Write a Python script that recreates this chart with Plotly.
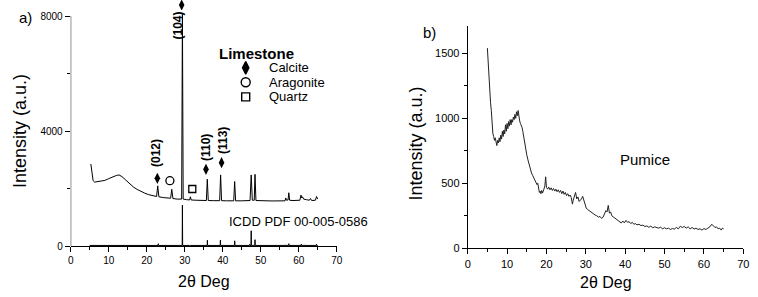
import plotly.graph_objects as go

# ---------------- data ----------------
lime_x = [5.3, 5.6, 5.9, 6.3, 7.0, 8.0, 9.0, 10.0, 11.0, 12.0, 12.7, 13.5, 14.5, 15.5, 16.5,
          17.5, 18.5, 19.5, 20.5, 21.5, 22.6, 22.9, 23.2, 24.5, 26.3, 26.6, 26.9, 28.0, 29.2,
          29.4, 29.6, 30.5, 31.3, 31.5, 31.7, 33.0, 35.7, 35.95, 36.2, 37.5, 39.2, 39.45, 39.7,
          41.0, 42.9, 43.15, 43.4, 45.0, 47.0, 47.2, 47.5, 47.8, 48.3, 48.5, 48.75, 50.0, 53.0,
          56.4, 56.6, 56.8, 57.2, 57.4, 57.6, 58.5, 60.3, 60.6, 60.8, 61.0, 61.3, 62.0, 62.8,
          63.1, 63.4, 64.4, 64.7, 65.0]
lime_y = [2860, 2500, 2280, 2230, 2240, 2250, 2290, 2350, 2410, 2460, 2480, 2420, 2300, 2170, 2060,
          1975, 1900, 1845, 1795, 1760, 1730, 2100, 1720, 1690, 1670, 1980, 1660, 1640, 1640,
          8100, 1640, 1620, 1610, 1720, 1610, 1600, 1590, 2330, 1590, 1585, 1585, 2480, 1585,
          1580, 1580, 2250, 1580, 1580, 1600, 1590, 2480, 1600, 1600, 2500, 1590, 1580, 1575,
          1580, 1680, 1600, 1610, 1860, 1600, 1590, 1600, 1780, 1680, 1720, 1640, 1620, 1600,
          1660, 1590, 1600, 1730, 1640]

ref_pos = [23.05, 29.4, 31.4, 35.97, 39.4, 43.16, 47.1, 47.5, 48.5, 56.6, 57.4, 60.7, 61.4, 64.7]
ref_int = [90, 1430, 40, 210, 220, 190, 70, 540, 230, 50, 90, 80, 50, 70]
ref_base = 30
ref_start, ref_end = 5.0, 65.0

pumice_x = [5.0, 5.2, 5.4, 5.6, 5.8, 6.0, 6.2, 6.4, 6.6, 6.8, 7.0, 7.2, 7.4, 7.6, 7.8, 8.0, 8.2, 8.4,
            8.6, 8.8, 9.0, 9.2, 9.4, 9.6, 9.8, 10.0, 10.2, 10.4, 10.6, 10.8, 11.0, 11.2, 11.4, 11.6,
            11.8, 12.0, 12.2, 12.4, 12.6, 12.8, 13.0, 13.2, 13.4, 13.6, 13.8, 14.0, 14.2, 14.4, 14.6,
            14.8, 15.0, 15.3, 15.6, 15.9, 16.2, 16.5, 16.8, 17.1, 17.4, 17.6, 17.8, 18.0, 18.2, 18.4,
            18.6, 18.8, 19.0, 19.3, 19.6, 19.8, 20.0, 20.3, 20.6, 20.9, 21.2, 21.5, 21.8, 22.1, 22.4,
            22.7, 23.0, 23.3, 23.6, 23.9, 24.2, 24.5, 24.8, 25.1, 25.4, 25.7, 26.0, 26.3, 26.6, 26.8,
            27.1, 27.4, 27.7, 28.0, 28.3, 28.6, 28.9, 29.2, 29.5, 29.8, 30.1, 30.4, 30.8, 31.2, 31.6,
            32.0, 32.4, 32.8, 33.2, 33.6, 34.0, 34.4, 34.8, 35.1, 35.4, 35.7, 36.0, 36.3, 36.6, 37.0,
            37.4, 37.8, 38.2, 38.6, 39.0, 39.4, 39.8, 40.2, 40.6, 41.0, 41.4, 41.8, 42.2, 42.6, 43.0,
            43.5, 44.0, 44.5, 45.0, 45.5, 46.0, 46.5, 47.0, 47.5, 48.0, 48.5, 49.0, 49.5, 50.0, 50.5,
            51.0, 51.5, 52.0, 52.5, 53.0, 53.5, 54.0, 54.5, 55.0, 55.5, 56.0, 56.5, 57.0, 57.5, 58.0,
            58.5, 59.0, 59.5, 60.0, 60.5, 61.0, 61.5, 62.0, 62.4, 62.8, 63.2, 63.6, 64.0, 64.4, 64.7,
            65.0]
pumice_y = [1540, 1420, 1280, 1190, 1120, 1060, 960, 880, 860, 830, 850, 800, 790, 830, 810, 850, 820, 870,
            840, 900, 860, 910, 880, 950, 900, 960, 920, 975, 940, 990, 950, 990, 970, 1010,
            990, 1030, 1000, 1050, 1020, 1060, 1000, 980, 960, 950, 930, 900, 860, 820, 780,
            750, 720, 680, 640, 610, 580, 560, 540, 520, 510, 490, 500, 470, 430, 440,
            420, 445, 425, 450, 480, 550, 470, 455, 470, 450, 465, 445, 460, 440, 455,
            435, 450, 430, 445, 420, 440, 415, 430, 405, 420, 400, 410, 390, 340, 370,
            400, 430, 380, 395, 360, 370, 380, 400, 370, 330, 310, 300, 290, 280, 270,
            265, 255, 250, 240, 245, 230, 240, 270, 290, 280, 330, 270, 280, 250, 240,
            230, 220, 210, 205, 195, 210, 195, 215, 200, 205, 190, 200, 185, 190, 180,
            185, 175, 178, 168, 172, 162, 170, 158, 165, 160, 155, 162, 150, 158, 150,
            155, 145, 152, 148, 160, 150, 170, 160, 168, 155, 165, 150, 160, 148, 155,
            145, 150, 140, 152, 145, 155, 165, 185, 170, 160, 165, 150, 155, 140, 155,
            150]

calcite_marks_x = [22.8, 29.2, 35.6, 39.7]
calcite_marks_y = [2362, 8383, 2675, 2904]
calcite_labels = ["(012)", "(104)", "(110)", "(113)"]
aragonite_mark = (26.1, 2279)
quartz_mark = (32.0, 1990)

legend_title = "Limestone"
legend_names = ["Calcite", "Aragonite", "Quartz"]

# ---------------- figure ----------------
W, H = 758, 297
FONT = "Arial, Liberation Sans, sans-serif"

def px(x):
    return x / W

def py(y):
    return 1 - y / H

fig = go.Figure()

line = dict(color="black", width=1)

fig.add_trace(go.Scatter(x=lime_x, y=lime_y, mode="lines", line=line,
                         xaxis="x", yaxis="y", hoverinfo="skip"))

# reference stick pattern
rx, ry = [ref_start], [ref_base]
for p, h in zip(ref_pos, ref_int):
    rx += [p - 0.06, p, p + 0.06]
    ry += [ref_base, h, ref_base]
rx.append(ref_end)
ry.append(ref_base)
fig.add_trace(go.Scatter(x=rx, y=ry, mode="lines", line=line,
                         xaxis="x", yaxis="y", hoverinfo="skip"))

# phase markers
fig.add_trace(go.Scatter(x=calcite_marks_x, y=calcite_marks_y, mode="markers",
                         marker=dict(symbol="diamond-tall", size=8, color="black"),
                         cliponaxis=False, xaxis="x", yaxis="y", hoverinfo="skip"))
fig.add_trace(go.Scatter(x=[aragonite_mark[0]], y=[aragonite_mark[1]], mode="markers",
                         marker=dict(symbol="circle-open", size=8, color="black",
                                     line=dict(width=1.3, color="black")),
                         xaxis="x", yaxis="y", hoverinfo="skip"))
fig.add_trace(go.Scatter(x=[quartz_mark[0]], y=[quartz_mark[1]], mode="markers",
                         marker=dict(symbol="square-open", size=7, color="black",
                                     line=dict(width=1.3, color="black")),
                         xaxis="x", yaxis="y", hoverinfo="skip"))

# legend symbols (in data coords of left panel)
leg_rows = [67.8, 82.3, 96.9]
leg_x = (245.7 - 70.7) / 3.8
leg_ys = [(246.3 - r) * 34.74 for r in leg_rows]
for sym, sz, yy in zip(["diamond-tall", "circle-open", "square-open"], [9, 9, 8], leg_ys):
    fig.add_trace(go.Scatter(x=[leg_x], y=[yy], mode="markers",
                             marker=dict(symbol=sym, size=sz,
                                         color="black", line=dict(width=1.4, color="black")),
                             xaxis="x", yaxis="y", hoverinfo="skip"))

fig.add_trace(go.Scatter(x=pumice_x, y=pumice_y, mode="lines",
                         line=dict(color="#222222", width=1),
                         xaxis="x2", yaxis="y2", hoverinfo="skip"))

tickfont = dict(family=FONT, size=10, color="black")
common_axis = dict(showgrid=False, zeroline=False, ticks="outside", ticklen=5,
                   tickwidth=1, tickcolor="black", linecolor="black", linewidth=1,
                   automargin=False)

fig.update_layout(
    template="none",
    width=W, height=H, margin=dict(l=0, r=0, t=0, b=0, pad=0), autosize=False,
    paper_bgcolor="white", plot_bgcolor="white", showlegend=False,
    xaxis=dict(domain=[px(70.7), px(336.7)], range=[0, 70], dtick=10, anchor="y",
               showline=True, tickfont=tickfont,
               minor=dict(ticks="outside", dtick=5, ticklen=3, tickcolor="black"),
               **common_axis),
    yaxis=dict(domain=[py(246.3), py(4.5)], range=[0, 8400], tickvals=[0, 4000, 8000],
               anchor="x", showline=False, tickfont=tickfont,
               minor=dict(ticks="outside", tickvals=[2000, 6000], ticklen=3, tickcolor="black"),
               **common_axis),
    xaxis2=dict(domain=[px(467.7), px(743.3)], range=[0, 70], dtick=10, anchor="y2",
                showline=True, tickfont=dict(family=FONT, size=11, color="black"),
                minor=dict(ticks="outside", dtick=5, ticklen=3, tickcolor="black"),
                **common_axis),
    yaxis2=dict(domain=[py(248.3), py(26)], range=[0, 1710], dtick=500, anchor="x2",
                showline=True, tickfont=dict(family=FONT, size=11, color="black"),
                minor=dict(ticks="outside", dtick=250, ticklen=3, tickcolor="black"),
                **common_axis),
)

# left y axis line ending at 8000
fig.add_shape(type="line", xref="x", yref="y", x0=0, x1=0, y0=0, y1=8000,
              line=dict(color="black", width=1))

ann = []
def text(x, y, t, size, bold=False, angle=0, xanchor="center", yanchor="middle"):
    ann.append(dict(x=px(x), y=py(y), xref="paper", yref="paper", text=t, showarrow=False,
                    textangle=angle, xanchor=xanchor, yanchor=yanchor, borderpad=0,
                    font=dict(family=FONT, size=size, color="black",
                              weight="bold" if bold else "normal")))

text(25, 17.5, "a)", 15)
text(429, 32.5, "b)", 15)
text(20, 131, "Intensity (a.u.)", 18, angle=-90)
text(415, 143.5, "Intensity (a.u.)", 18, angle=-90)
text(204, 281, "2θ Deg", 16)
text(606, 282, "2θ Deg", 16)
text(644.5, 159, "Pumice", 15)
text(228.3, 221.7, "ICDD PDF 00-005-0586", 13, xanchor="left")
text(218.3, 53.5, legend_title, 15, bold=True, xanchor="left")
for name, yy in zip(legend_names, leg_rows):
    text(267.5, yy, name, 13, xanchor="left")

# hkl labels (rotated)
for lbl, cx, cy in zip(calcite_labels, [156, 177, 206, 223], [153, 25.5, 148, 141]):
    text(cx, cy, lbl, 12, bold=True, angle=-90)

fig.update_layout(annotations=ann)
fig.write_html("out.html", config={"displayModeBar": False, "staticPlot": True},
               post_script="document.body.style.margin='0';document.body.style.overflow='hidden';")
